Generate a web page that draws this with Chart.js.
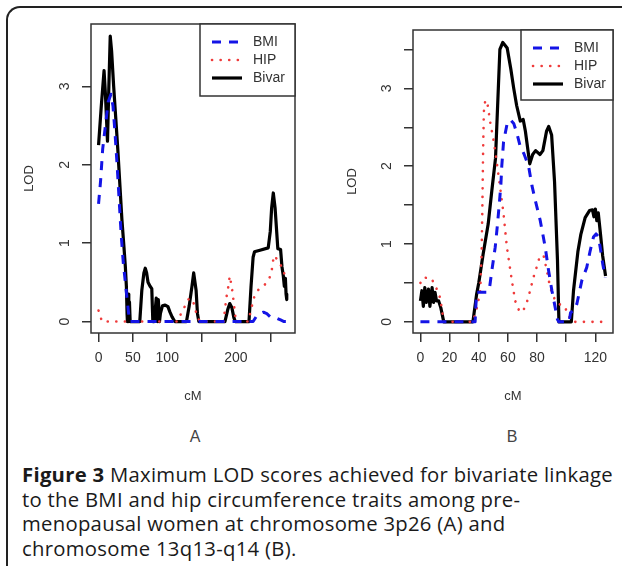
<!DOCTYPE html>
<html>
<head>
<meta charset="utf-8">
<script src="https://cdn.jsdelivr.net/npm/chart.js@4.4.1/dist/chart.umd.min.js"></script>
<style>
  body { margin: 0; width: 622px; height: 566px; overflow: hidden; position: relative; background: #fff; }
  .frame { position: absolute; left: 6px; top: 6px; width: 640px; height: 620px;
    border-top: 2px solid #222; border-left: 2px solid #222; border-top-left-radius: 14px; }
  canvas { position: absolute; top: 0; }
  #chartA { left: 0; }
  #chartB { left: 320px; }
  .panel { position: absolute; top: 428px; width: 40px; margin-left: -20px; text-align: center;
    font: 16px "Liberation Sans", Arial, sans-serif; color: #444; }
  .caption { position: absolute; left: 22px; top: 462px; width: 600px; white-space: nowrap;
    font: 20.3px "Open Sans", sans-serif; letter-spacing: 0.28px; line-height: 24.6px; color: #1a1a1a; }
  .caption b { font-weight: 700; }
</style>
</head>
<body>
<div class="frame"></div>
<canvas id="chartA" width="310" height="420"></canvas>
<canvas id="chartB" width="302" height="420"></canvas>
<div class="panel" style="left:195px">A</div>
<div class="panel" style="left:512px">B</div>
<div class="caption"><b>Figure 3</b> Maximum LOD scores achieved for bivariate linkage<br>to the BMI and hip circumference traits among pre-<br>menopausal women at chromosome 3p26 (A) and<br>chromosome 13q13-q14 (B).</div>

<script>
// Panel A: chromosome 3p26
const cmA_bmi  = [0, 3, 6, 10, 14, 18, 21, 24, 27, 30, 33, 36, 39, 42, 45, 225, 230, 235, 240, 245, 250, 255, 260, 265, 270, 275];
const lodA_bmi = [1.5, 1.8, 2.2, 2.5, 2.8, 2.9, 2.75, 2.4, 2.0, 1.55, 1.1, 0.75, 0.5, 0.25, 0, 0, 0.07, 0.1, 0.12, 0.1, 0.06, 0.06, 0.04, 0.02, 0, 0];
const cmA_hip  = [0, 5, 115, 120, 126, 132, 138, 144, 148, 182, 186, 189, 191, 194, 196, 198, 200, 218, 222, 226, 232, 242, 249, 253, 255, 258, 262, 267, 272, 275];
const lodA_hip = [0.14, 0, 0, 0.1, 0.2, 0.3, 0.25, 0.05, 0, 0, 0.3, 0.45, 0.58, 0.44, 0.3, 0.15, 0, 0, 0.15, 0.3, 0.4, 0.47, 0.56, 0.69, 0.84, 0.82, 0.75, 0.7, 0.57, 0.55];
const cmA_biv  = [0, 4, 8, 10, 13, 15, 17, 19, 22, 25, 28, 31, 34, 37, 39, 40.5, 41.5, 42, 43, 44, 45, 46, 60, 63, 66, 68, 70, 72, 75, 77.5, 79, 81, 84, 85.5, 87, 88.7, 90, 93, 97, 101, 104, 107, 111,
                  128, 132, 136, 138.5, 142, 144, 146, 184, 188, 191, 194, 197, 199, 219, 222, 225, 227, 235, 247, 250, 252, 254.4, 257, 261, 265, 267, 269, 270.5, 272, 273, 274];
const lodA_biv = [2.25, 2.75, 3.2, 2.9, 2.3, 3.0, 3.64, 3.45, 3.0, 2.6, 2.2, 1.75, 1.3, 0.95, 0.7, 0.45, 0.1, 0, 0.35, 0, 0.25, 0, 0, 0.4, 0.62, 0.68, 0.62, 0.5, 0.45, 0.42, 0, 0, 0.3, 0, 0.28, 0, 0.1, 0.2, 0.21, 0.19, 0.12, 0.06, 0,
                  0, 0.2, 0.45, 0.62, 0.4, 0.1, 0, 0, 0.15, 0.23, 0.18, 0.05, 0, 0, 0.45, 0.82, 0.89, 0.91, 0.94, 1.15, 1.45, 1.64, 1.45, 0.93, 0.92, 0.7, 0.58, 0.45, 0.55, 0.35, 0.28];
const xTicksA  = [0, 50, 100, 150, 200, 250];
const xLabelsA = ['0', '50', '100', '', '200', ''];
const yTicksA  = [0, 1, 2, 3];
const yLabelsA = ['0', '1', '2', '3'];

// Panel B: chromosome 13q13-q14
const cmB_bmi  = [0, 37.5, 38.5, 46, 47.5, 49, 51.3, 52.9, 54.3, 55.2, 55.8, 57, 59.3, 61.6, 64, 66.2, 68.5, 71, 74.2, 76.5, 78.8, 82.2, 85.6, 87.9, 90.2, 92.5, 94, 95, 102, 103, 106, 107.3, 110.7, 114.1, 116.4, 118.7, 120.5, 122, 123.3, 125.1, 126.8];
const lodB_bmi = [0, 0, 0.38, 0.38, 0.45, 0.66, 0.96, 1.26, 1.56, 1.77, 2.0, 2.31, 2.53, 2.6, 2.55, 2.42, 2.25, 2.16, 2.0, 1.75, 1.56, 1.3, 0.96, 0.66, 0.4, 0.18, 0.03, 0, 0, 0.12, 0.15, 0.23, 0.53, 0.7, 0.91, 1.09, 1.13, 1.1, 0.96, 0.74, 0.57];
const cmB_hip  = [0, 2, 7.5, 11, 13.5, 16, 36, 39, 41, 42, 42.5, 43, 43.5, 44.5, 46, 48, 50, 52, 54.5, 57, 59.3, 62.7, 65, 68, 70, 72, 74, 77.5, 80, 82, 84.5, 86.7, 89, 92.5, 96, 99, 101, 104, 127];
const lodB_hip = [0.5, 0.57, 0.56, 0.43, 0.31, 0, 0, 0.2, 0.4, 0.9, 1.5, 2.2, 2.7, 2.85, 2.8, 2.55, 2.35, 2.1, 1.75, 1.39, 0.96, 0.53, 0.27, 0.13, 0.13, 0.2, 0.31, 0.57, 0.72, 0.85, 0.85, 0.66, 0.44, 0.27, 0.22, 0.2, 0.1, 0, 0];
const cmB_biv  = [0, 1, 2, 3, 4, 5.5, 6.5, 8, 9, 10, 11, 12.5, 14, 16, 36, 38.5, 40, 43, 46.5, 49, 51.5, 53, 54.5, 56.5, 59.5, 62, 64, 66, 68.5, 70.5, 72, 75, 77, 79, 82, 84, 86.5, 88, 90, 92, 94, 95,
                  103.5, 105, 106.5, 108, 110, 113, 116, 118, 119, 120, 121, 122, 123.5, 125, 127];
const lodB_biv = [0.27, 0.4, 0.2, 0.44, 0.25, 0.42, 0.2, 0.44, 0.25, 0.38, 0.27, 0.27, 0.18, 0, 0, 0.35, 0.5, 0.87, 1.26, 1.69, 2.1, 2.8, 3.5, 3.59, 3.52, 3.25, 3.0, 2.78, 2.58, 2.6, 2.45, 2.03, 2.15, 2.2, 2.15, 2.2, 2.45, 2.51, 2.4, 1.8, 0.8, 0,
                  0, 0.4, 0.65, 0.9, 1.12, 1.34, 1.43, 1.44, 1.35, 1.45, 1.3, 1.4, 1.13, 0.85, 0.59];
const xTicksB  = [0, 20, 40, 60, 80, 100, 120];
const xLabelsB = ['0', '20', '40', '60', '80', '', '120'];
const yTicksB  = [0, 0.5, 1, 1.5, 2, 2.5, 3, 3.5];
const yLabelsB = ['0', '', '1', '', '2', '', '3', ''];

Chart.defaults.font.family = '"Liberation Sans", Arial, sans-serif';
Chart.defaults.color = '#333';

const pts = (xs, ys) => xs.map((x, i) => ({x: x, y: ys[i]}));

// box round the plot region and an R-style legend in its top right corner
const rBox = {
    id: 'rBox',
    afterDraw(chart, args, opts) {
        const {ctx, chartArea: a} = chart;
        ctx.save();
        ctx.strokeStyle = '#333';
        ctx.lineWidth = 1.5;
        ctx.strokeRect(a.left, a.top, a.right - a.left, a.bottom - a.top);
        const x0 = a.right - opts.width, y0 = a.top;
        ctx.fillStyle = '#fff';
        ctx.fillRect(x0, y0, opts.width, opts.height);
        ctx.strokeRect(x0, y0, opts.width, opts.height);
        chart.data.datasets.forEach((ds, i) => {
            const y = y0 + opts.rowTop + i * opts.rowGap;
            ctx.beginPath();
            ctx.setLineDash(ds.borderDash || []);
            ctx.lineCap = ds.borderCapStyle || 'butt';
            ctx.strokeStyle = ds.borderColor;
            ctx.lineWidth = ds.borderWidth;
            ctx.moveTo(x0 + 12, y);
            ctx.lineTo(x0 + 42, y);
            ctx.stroke();
            ctx.setLineDash([]);
            ctx.fillStyle = '#333';
            ctx.font = '14px "Liberation Sans", Arial, sans-serif';
            ctx.textBaseline = 'middle';
            ctx.fillText(ds.label, x0 + 53, y);
        });
        ctx.restore();
    }
};

function makeChart(id, series, xr, yr, xTicks, xLabels, yTicks, yLabels, box) {
    const ctx = document.getElementById(id).getContext('2d');
    return new Chart(ctx, {
        type: 'line',
        data: {
            datasets: [
                {label: 'BMI', data: pts(series[0], series[1]), borderColor: '#1414e6', borderWidth: 3, borderDash: [9, 8]},
                {label: 'HIP', data: pts(series[2], series[3]), borderColor: '#ef3b3b', borderWidth: 2.6, borderDash: [0.1, 8.5], borderCapStyle: 'round'},
                {label: 'Bivar', data: pts(series[4], series[5]), borderColor: '#000', borderWidth: 3.2}
            ]
        },
        options: {
            responsive: false,
            animation: false,
            devicePixelRatio: 1,
            layout: {padding: {top: box.top, right: box.right, left: 0, bottom: 0}},
            elements: {point: {radius: 0}, line: {tension: 0, fill: false, borderJoinStyle: 'round'}},
            plugins: {
                legend: {display: false},
                tooltip: {enabled: false},
                rBox: {width: box.legW, height: box.legH, rowTop: 18, rowGap: 18}
            },
            scales: {
                x: {
                    type: 'linear',
                    min: xr[0],
                    max: xr[1],
                    afterBuildTicks: s => { s.ticks = xTicks.map(v => ({value: v})); },
                    afterFit: s => { s.height = 87; },
                    ticks: {callback: (v, i) => xLabels[i], font: {size: 14}, padding: 8, color: '#333', maxRotation: 0},
                    grid: {drawOnChartArea: false, drawTicks: true, tickLength: 9, color: '#333', lineWidth: 1.5},
                    border: {display: false},
                    title: {display: true, text: 'cM', font: {size: 13}, color: '#333', padding: {bottom: 16}}
                },
                y: {
                    min: yr[0],
                    max: yr[1],
                    afterBuildTicks: s => { s.ticks = yTicks.map(v => ({value: v})); },
                    afterFit: s => { s.width = box.left; },
                    ticks: {callback: (v, i) => yLabels[i], font: {size: 14}, padding: 13, color: '#333',
                        minRotation: 90, maxRotation: 90, crossAlign: 'center'},
                    grid: {drawOnChartArea: false, drawTicks: true, tickLength: 9, color: '#333', lineWidth: 1.5},
                    border: {display: false},
                    title: {display: true, text: 'LOD', font: {size: 13}, color: '#333', padding: {top: box.titleX}}
                }
            }
        },
        plugins: [rBox]
    });
}

makeChart('chartA', [cmA_bmi, lodA_bmi, cmA_hip, lodA_hip, cmA_biv, lodA_biv],
    [-11, 286], [-0.146, 3.795], xTicksA, xLabelsA, yTicksA, yLabelsA,
    {top: 24, right: 15, left: 91, legW: 95, legH: 72, titleX: 22});

makeChart('chartB', [cmB_bmi, lodB_bmi, cmB_hip, lodB_hip, cmB_biv, lodB_biv],
    [-5.1, 132.1], [-0.143, 3.75], xTicksB, xLabelsB, yTicksB, yLabelsB,
    {top: 30, right: 9, left: 93, legW: 92, legH: 70, titleX: 25});
</script>
</body>
</html>
